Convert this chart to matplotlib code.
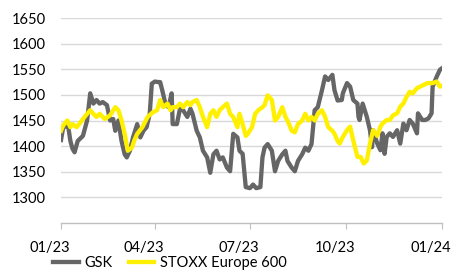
import numpy as np
import pandas as pd
import matplotlib
matplotlib.use('Agg')
from matplotlib import pyplot as plt
import matplotlib.dates as mdates
import matplotlib.transforms as mtransforms

# 데이터 (2023-01-01 기준 경과일, 지수값)
gsk_days = [0, 2, 5, 7, 9, 11, 13, 16, 21, 25, 28, 31, 34, 37, 40, 44, 47, 50, 52, 55,
            58, 61, 63, 66, 69, 73, 76, 79, 82, 85, 87, 90, 93, 95, 97, 100, 103, 106, 107, 111,
            114, 117, 121, 124, 126, 130, 133, 136, 140, 143, 146, 149, 152, 155, 159, 162, 165, 169, 171, 174,
            177, 181, 184, 187, 191, 193, 195, 198, 202, 205, 208, 212, 215, 217, 221, 224, 227, 231, 234, 237,
            240, 243, 246, 250, 253, 256, 260, 262, 265, 269, 270, 274, 277, 280, 284, 285, 286, 289, 293, 296,
            298, 299, 303, 306, 308, 310, 312, 315, 318, 322, 325, 328, 331, 334, 337, 341, 342, 346, 349, 352,
            355, 356, 360, 363, 365]
gsk_vals = [1412, 1435, 1440, 1437, 1410, 1395, 1388, 1410, 1420, 1450, 1503, 1483, 1490, 1483, 1486, 1480, 1450, 1453, 1430, 1450,
            1410, 1384, 1378, 1391, 1417, 1443, 1417, 1430, 1437, 1463, 1522, 1526, 1525, 1525, 1509, 1483, 1476, 1503, 1443, 1443,
            1473, 1470, 1457, 1473, 1463, 1430, 1417, 1391, 1378, 1348, 1384, 1391, 1374, 1378, 1358, 1351, 1424, 1417, 1391, 1385,
            1320, 1318, 1325, 1318, 1320, 1378, 1397, 1404, 1391, 1351, 1371, 1384, 1391, 1371, 1358, 1351, 1371, 1384, 1397, 1391,
            1404, 1470, 1476, 1509, 1536, 1529, 1539, 1509, 1489, 1490, 1503, 1523, 1516, 1490, 1483, 1457, 1451, 1483, 1457, 1431,
            1398, 1431, 1405, 1392, 1425, 1385, 1418, 1425, 1418, 1431, 1405, 1444, 1431, 1451, 1444, 1425, 1464, 1451, 1451, 1454,
            1464, 1516, 1536, 1549, 1552]

stoxx_days = [0, 2, 6, 9, 11, 15, 20, 25, 28, 31, 34, 37, 42, 47, 52, 55, 58, 61, 64, 68,
              70, 73, 78, 83, 88, 92, 95, 98, 102, 105, 107, 111, 114, 117, 121, 124, 126, 130, 133, 136,
              140, 143, 146, 149, 152, 155, 159, 162, 165, 169, 171, 174, 177, 179, 183, 186, 189, 193, 195, 198,
              202, 205, 208, 212, 215, 217, 221, 224, 227, 231, 234, 237, 240, 243, 246, 250, 253, 256, 260, 262,
              265, 267, 270, 274, 277, 280, 284, 287, 290, 293, 296, 299, 303, 306, 308, 312, 315, 318, 322, 325,
              328, 331, 334, 337, 341, 344, 347, 351, 354, 356, 360, 363, 365]
stoxx_vals = [1430, 1440, 1450, 1437, 1443, 1437, 1450, 1463, 1470, 1463, 1457, 1463, 1453, 1460, 1476, 1470, 1450, 1424, 1391, 1397,
              1410, 1424, 1437, 1457, 1466, 1470, 1490, 1476, 1483, 1470, 1476, 1476, 1483, 1476, 1486, 1480, 1486, 1490, 1476, 1457,
              1437, 1463, 1470, 1457, 1470, 1476, 1483, 1463, 1457, 1437, 1463, 1443, 1420, 1424, 1437, 1463, 1470, 1476, 1480, 1499,
              1490, 1450, 1457, 1476, 1457, 1450, 1430, 1427, 1443, 1450, 1463, 1450, 1457, 1450, 1463, 1470, 1457, 1437, 1430, 1424,
              1410, 1405, 1418, 1431, 1438, 1411, 1379, 1379, 1366, 1372, 1405, 1431, 1420, 1438, 1444, 1451, 1451, 1460, 1464, 1477,
              1483, 1496, 1506, 1503, 1513, 1516, 1519, 1523, 1523, 1523, 1526, 1516, 1518]

start = pd.Timestamp('2023-01-01')
gsk_dates = start + pd.to_timedelta(gsk_days, unit='D')
stoxx_dates = start + pd.to_timedelta(stoxx_days, unit='D')

plt.rcParams['font.family'] = ['Lato', 'DejaVu Sans']

fig = plt.figure(figsize=(4.51, 2.71), dpi=100)
ax = fig.add_axes([61/451, 1-223/271, 381/451, 205/271])

ax.plot(gsk_dates, gsk_vals, color='#666666', lw=3.1, label='GSK', solid_joinstyle='round')
ax.plot(stoxx_dates, stoxx_vals, color='#FFF000', lw=3.1, label='STOXX Europe 600', solid_joinstyle='round')

ax.set_ylim(1250, 1650)
ax.set_yticks(range(1300, 1651, 50))
ax.set_xlim(pd.Timestamp('2023-01-01'), pd.Timestamp('2024-01-01'))
ax.xaxis.set_major_locator(mdates.MonthLocator(bymonth=[1, 4, 7, 10]))
ax.xaxis.set_major_formatter(mdates.DateFormatter('%m/%y'))

ax.grid(axis='y', color='#D9D9D9', lw=1.0)
ax.set_axisbelow(True)
for s in ['left', 'right', 'top']:
    ax.spines[s].set_visible(False)
ax.spines['bottom'].set_color('#BFBFBF')
ax.spines['bottom'].set_linewidth(1.0)
ax.tick_params(axis='y', length=0, pad=11, labelsize=10.5, labelcolor='#000000')
ax.tick_params(axis='x', length=4, color='#BFBFBF', pad=9, labelsize=10.5)

# 엑셀처럼 x축 라벨을 왼쪽으로 조금 이동
shift = mtransforms.ScaledTranslation(-11/100, 0, fig.dpi_scale_trans)
for label in ax.get_xticklabels():
    label.set_transform(label.get_transform() + shift)

fig.legend(loc='center left', bbox_to_anchor=(53/451, 1-263/271), ncol=2, frameon=False,
           fontsize=10.5, handlelength=1.75, handletextpad=0.4, columnspacing=1.1, borderaxespad=0,
           borderpad=0)

fig.savefig('out.png', dpi=100)
